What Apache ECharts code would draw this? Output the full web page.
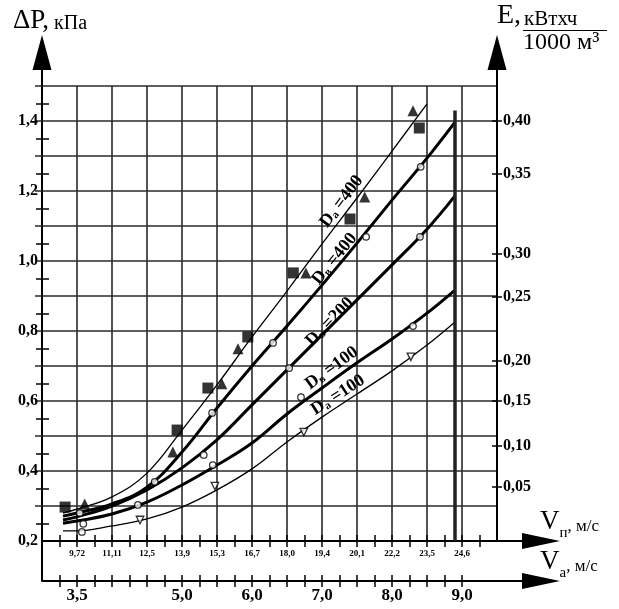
<!DOCTYPE html>
<html>
<head>
<meta charset="utf-8">
<script src="https://cdn.jsdelivr.net/npm/echarts@6/dist/echarts.min.js"></script>
<style>
html, body { margin: 0; padding: 0; background: #fff; }
#chart { width: 619px; height: 609px; }
</style>
</head>
<body>
<div id="chart"></div>
<script>
// air velocity V_a, m/s (curve sample points)
const va = [3.3, 3.5, 4.0, 4.5, 5.0, 5.5, 6.0, 6.5, 7.0, 7.5, 8.0, 8.5, 8.9];

// pressure drop, kPa
const dpA400 = [0.280, 0.291, 0.326, 0.394, 0.517, 0.646, 0.783, 0.914, 1.049, 1.180, 1.314, 1.449];
const dpB400 = [0.271, 0.280, 0.306, 0.354, 0.454, 0.580, 0.700, 0.814, 0.931, 1.051, 1.174, 1.294, 1.397];
const dpB200 = [0.260, 0.269, 0.300, 0.346, 0.409, 0.489, 0.589, 0.689, 0.789, 0.889, 0.989, 1.091, 1.186];
const dpB100 = [0.251, 0.257, 0.277, 0.311, 0.360, 0.417, 0.480, 0.563, 0.637, 0.709, 0.777, 0.851, 0.917];
const dpA100 = [0.229, 0.229, 0.243, 0.263, 0.297, 0.346, 0.406, 0.483, 0.554, 0.620, 0.686, 0.760, 0.826];

// measured points
const squares = [[3.33, 0.297], [4.93, 0.517], [5.37, 0.637], [5.94, 0.783], [6.59, 0.966], [7.40, 1.120], [8.39, 1.380]];
const triangles = [[3.61, 0.306], [4.87, 0.454], [5.57, 0.649], [5.80, 0.749], [6.77, 0.966], [7.61, 1.183], [8.30, 1.429]];
const circles = [[3.54, 0.280], [3.59, 0.249], [3.57, 0.226], [4.61, 0.369], [5.43, 0.566], [6.30, 0.766],
    [7.63, 1.069], [8.41, 1.269], [5.31, 0.446], [6.53, 0.694], [8.40, 1.069], [4.37, 0.303],
    [5.44, 0.417], [6.70, 0.611], [8.30, 0.814]];
const openTriangles = [[4.40, 0.260], [5.47, 0.357], [6.74, 0.511], [8.27, 0.726]];

// curve names and where they are written
const curveNames = [["а", "400"], ["в", "400"], ["в", "200"], ["в", "100"], ["а", "100"]];
const curveLabelPos = [[7.28, 1.170], [7.18, 1.006], [7.11, 0.826], [7.14, 0.694], [7.23, 0.617]];
const curveLabelAngle = [53, 51, 46, 36, 33];

// limit line
const limitVa = 8.9;
const limitTop = 1.43;

// axes
const vpLabelPos = [3.5, 4.0, 4.5, 5.0, 5.5, 6.0, 6.5, 7.0, 7.5, 8.0, 8.5, 9.0];
const vpLabels = ["9,72", "11,11", "12,5", "13,9", "15,3", "16,7", "18,0", "19,4", "20,1", "22,2", "23,5", "24,6"];
const vpTicks = [3.25, 3.5, 3.75, 4.0, 4.25, 4.5, 4.75, 5.0, 5.25, 5.5, 5.75, 6.0, 6.25, 6.5, 6.75,
    7.0, 7.25, 7.5, 7.75, 8.0, 8.25, 8.5, 8.75, 9.0, 9.25];
const vaLabelPos = [3.5, 5.0, 6.0, 7.0, 8.0, 9.0];
const vaLabels = ["3,5", "5,0", "6,0", "7,0", "8,0", "9,0"];
const vaTicks = [3.25, 3.5, 3.75, 4.0, 4.25, 4.5, 4.75, 5.0, 5.25, 5.5, 5.75, 6.0, 6.25, 6.5, 6.75,
    7.0, 7.25, 7.5, 7.75, 8.0, 8.25, 8.5, 8.75, 9.0];
const dpLabelPos = [0.2, 0.4, 0.6, 0.8, 1.0, 1.2, 1.4];
const dpTicks = [0.25, 0.35, 0.45, 0.55, 0.65, 0.75, 0.85, 0.95, 1.05, 1.15, 1.25, 1.35, 1.45];
const dpGridStubs = [0.3, 0.4, 0.5, 0.6, 0.7, 0.8, 0.9, 1.0, 1.1, 1.2, 1.3, 1.4, 1.5];
const eTickPos = [1.400, 1.249, 1.020, 0.897, 0.714, 0.600, 0.471, 0.354];
const eLabels = ["0,40", "0,35", "0,30", "0,25", "0,20", "0,15", "0,10", "0,05"];

const FONT = '"Liberation Serif", "DejaVu Serif", serif';

const ARROW_V = "path://M9.5,0 L19,35 L10.5,35 L10.5,51 L8.5,51 L8.5,35 L0,35 Z";
const STEM_DOWN = "path://M0,0 L0.01,0 L0,0.01 Z M19,51 L18.99,51 L19,50.99 Z M8.5,11 L10.5,11 L10.5,51 L8.5,51 Z";
const ARROW_H = "path://M8,0 L16,38 L9,38 L9,63 L7,63 L7,38 L0,38 Z";

function pick(pos, labels) {
    return v => {
        const i = pos.findIndex(p => Math.abs(p - v) < 1e-6);
        return i >= 0 ? labels[i] : "";
    };
}

function curve(values) {
    return values.map((v, i) => [va[i], v]);
}

const labelRich = {
    d: { fontFamily: FONT, fontWeight: "bold", fontSize: 18, color: "#000" },
    s: { fontFamily: FONT, fontWeight: "bold", fontSize: 11, color: "#000", verticalAlign: "bottom" },
    t: { fontFamily: FONT, fontWeight: "bold", fontSize: 18, color: "#000" }
};

function lineSeries(values, width, idx) {
    return {
        type: "line",
        data: curve(values),
        smooth: 0.4,
        showSymbol: false,
        lineStyle: { color: "#000", width: width },
        z: 3,
        markPoint: {
            symbol: "circle",
            symbolSize: 1,
            itemStyle: { color: "rgba(0,0,0,0)" },
            silent: true,
            data: [{ coord: curveLabelPos[idx] }],
            label: {
                show: true,
                position: "inside",
                rotate: curveLabelAngle[idx],
                formatter: "{d|D}{s|" + curveNames[idx][0] + "}{t| =" + curveNames[idx][1] + "}",
                rich: labelRich
            }
        }
    };
}

const chart = echarts.init(document.getElementById("chart"));

const tickAxisX = (ticks, inside, offset) => ({
    type: "value", position: "bottom", min: 3, max: 9.5, offset: offset,
    axisLine: { show: false, onZero: false },
    axisTick: { show: true, inside: inside, length: 6, customValues: ticks, lineStyle: { color: "#000", width: 1.5 } },
    axisLabel: { show: false },
    splitLine: { show: false }
});

const tickAxisY = (pos, ticks, inside, len, color) => ({
    type: "value", position: pos, min: 0.2, max: 1.5,
    axisLine: { show: false, onZero: false },
    axisTick: { show: true, inside: inside, length: len, customValues: ticks, lineStyle: { color: color || "#000", width: 1.5 } },
    axisLabel: { show: false },
    splitLine: { show: false }
});

const vName = {
    v: { fontFamily: FONT, fontSize: 27, color: "#000", lineHeight: 27, padding: [0, 0, 6, 0], verticalAlign: "bottom" },
    s: { fontFamily: FONT, fontSize: 15, color: "#000", lineHeight: 15, verticalAlign: "bottom" },
    u: { fontFamily: FONT, fontSize: 17, color: "#000", lineHeight: 17, padding: [0, 0, 6, 0], verticalAlign: "bottom" }
};

const option = {
    animation: false,
    backgroundColor: "#fff",
    grid: { left: 42, top: 86, width: 455, height: 455, containLabel: false },
    xAxis: [
        {
            type: "value", position: "bottom", min: 3, max: 9.5, interval: 0.5,
            axisLine: {
                show: true, onZero: false,
                lineStyle: { color: "#000", width: 2 },
                symbol: ["none", ARROW_H], symbolSize: [16, 63], symbolOffset: [0, 31.5]
            },
            axisTick: { show: false },
            splitLine: { show: true, lineStyle: { color: "#2a2a2a", width: 1.6 } },
            axisLabel: {
                customValues: vpLabelPos, formatter: pick(vpLabelPos, vpLabels),
                fontFamily: FONT, fontWeight: "bold", fontSize: 9, color: "#000", margin: 8
            },
            name: "{v|V}{s|п}{u|, м/с}",
            nameLocation: "end",
            nameGap: 43,
            nameTextStyle: { align: "left", verticalAlign: "bottom", rich: vName }
        },
        {
            type: "value", position: "bottom", offset: 40, min: 3, max: 9.5,
            axisLine: {
                show: true, onZero: false,
                lineStyle: { color: "#000", width: 2 },
                symbol: ["none", ARROW_H], symbolSize: [16, 63], symbolOffset: [0, 31.5]
            },
            axisTick: { show: true, length: 6, customValues: vaTicks, lineStyle: { color: "#000", width: 1.5 } },
            splitLine: { show: false },
            axisLabel: {
                customValues: vaLabelPos, formatter: pick(vaLabelPos, vaLabels),
                fontFamily: FONT, fontWeight: "bold", fontSize: 17, color: "#000", margin: 6
            },
            name: "{v|V}{s|а}{u|, м/с}",
            nameLocation: "end",
            nameGap: 43,
            nameTextStyle: { align: "left", verticalAlign: "bottom", rich: vName }
        },
        tickAxisX(vpTicks, false, 0),
        tickAxisX(vpTicks, true, 0),
        tickAxisX(vaTicks, true, 40)
    ],
    yAxis: [
        {
            type: "value", position: "left", min: 0.2, max: 1.5, interval: 0.1,
            axisLine: {
                show: true, onZero: false,
                lineStyle: { color: "#000", width: 2 },
                symbol: [STEM_DOWN, ARROW_V], symbolSize: [19, 51], symbolOffset: [-25.5, 25.5]
            },
            axisTick: { show: false },
            splitLine: { show: true, lineStyle: { color: "#2a2a2a", width: 1.6 } },
            axisLabel: {
                customValues: dpLabelPos, formatter: v => v.toFixed(1).replace(".", ","),
                fontFamily: FONT, fontWeight: "bold", fontSize: 16, color: "#000", margin: 4
            },
            name: "{a|ΔP,}{b| кПа}",
            nameLocation: "end",
            nameGap: 52,
            nameTextStyle: {
                align: "center", verticalAlign: "bottom", padding: [0, 0, 0, 16],
                rich: {
                    a: { fontFamily: FONT, fontSize: 27, color: "#000", verticalAlign: "bottom" },
                    b: { fontFamily: FONT, fontSize: 20, color: "#000", verticalAlign: "bottom" }
                }
            }
        },
        {
            type: "value", position: "right", min: 0.2, max: 1.5,
            axisLine: {
                show: true, onZero: false,
                lineStyle: { color: "#000", width: 2 },
                symbol: ["none", ARROW_V], symbolSize: [19, 51], symbolOffset: [0, 25.5]
            },
            axisTick: { show: true, length: 5, customValues: eTickPos, lineStyle: { color: "#000", width: 1.5 } },
            splitLine: { show: false },
            axisLabel: {
                customValues: eTickPos, formatter: pick(eTickPos, eLabels),
                fontFamily: FONT, fontWeight: "bold", fontSize: 16, color: "#000", margin: 6
            },
            name: "{e|E,}{n|кВтхч}\n{sp|}{hr|}\n{sp|}{d|1000 м³}",
            nameLocation: "end",
            nameGap: 32,
            nameTextStyle: {
                align: "left", verticalAlign: "bottom",
                rich: {
                    e: { fontFamily: FONT, fontSize: 28, color: "#000", width: 27, lineHeight: 26, verticalAlign: "bottom" },
                    n: { fontFamily: FONT, fontSize: 21, color: "#000", lineHeight: 22, verticalAlign: "bottom" },
                    sp: { width: 26, height: 1 },
                    hr: { width: 84, height: 0, borderWidth: 1.2, borderColor: "#000" },
                    d: { fontFamily: FONT, fontSize: 24, color: "#000", lineHeight: 23 }
                }
            }
        },
        tickAxisY("left", dpTicks, false, 6),
        tickAxisY("left", dpTicks, true, 7),
        tickAxisY("right", eTickPos, true, 5),
        tickAxisY("left", dpGridStubs, false, 7, "#2a2a2a")
    ],
    series: [
        lineSeries(dpA400, 1.3, 0),
        Object.assign(lineSeries(dpB400, 3, 1), {
            markLine: {
                silent: true,
                symbol: "none",
                label: { show: false },
                lineStyle: { color: "#222", width: 3.5, type: "solid" },
                data: [[{ coord: [limitVa, 0.2] }, { coord: [limitVa, limitTop] }]]
            }
        }),
        lineSeries(dpB200, 3, 2),
        lineSeries(dpB100, 3, 3),
        lineSeries(dpA100, 1.3, 4),
        {
            type: "scatter", data: squares, symbol: "rect", symbolSize: 11,
            itemStyle: { color: "#000" }, z: 4
        },
        {
            type: "scatter", data: triangles, symbol: "triangle", symbolSize: 11,
            itemStyle: { color: "#000" }, z: 4
        },
        {
            type: "scatter", data: circles, symbol: "circle", symbolSize: 6.5,
            itemStyle: { color: "#fff", borderColor: "#000", borderWidth: 1.3 }, z: 4
        },
        {
            type: "scatter", data: openTriangles, symbol: "triangle", symbolSize: 7.5, symbolRotate: 180,
            itemStyle: { color: "#fff", borderColor: "#000", borderWidth: 1.3 }, z: 4
        }
    ]
};

chart.setOption(option);
</script>
</body>
</html>
